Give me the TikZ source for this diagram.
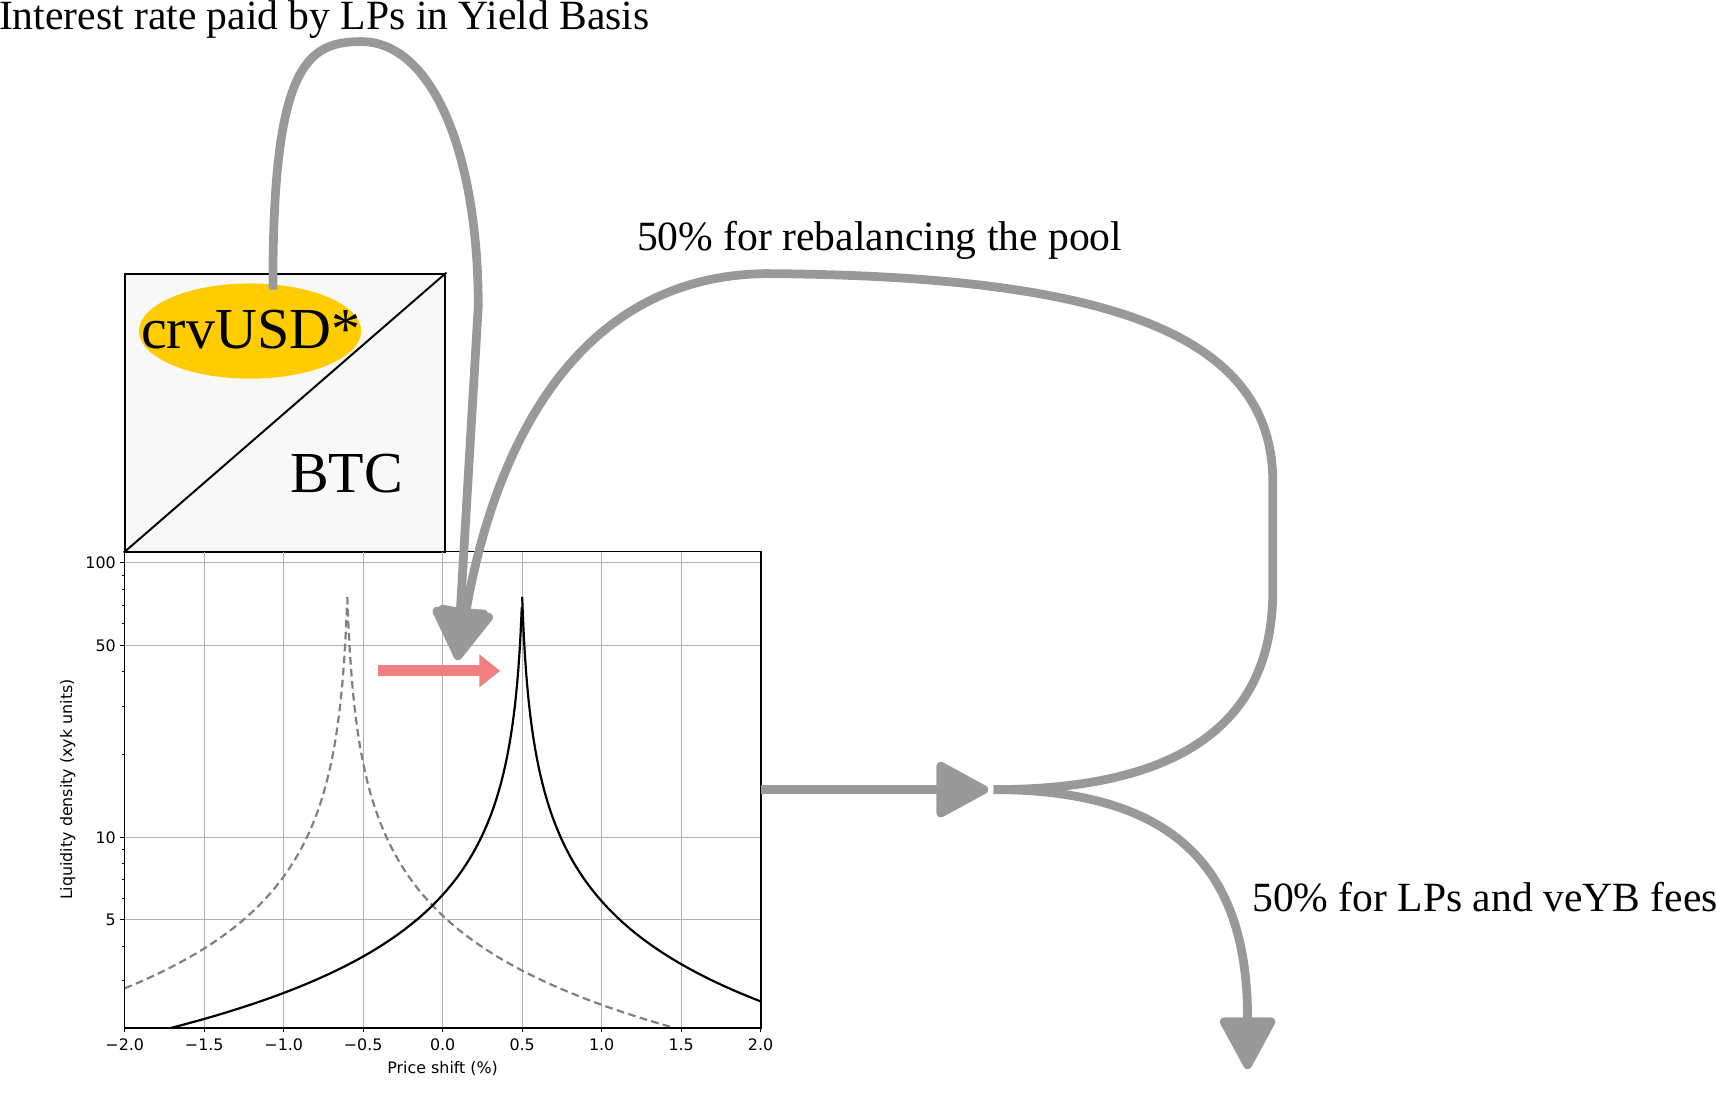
\documentclass[tikz,border=0pt]{standalone}
\usepackage{fontspec}
\setmainfont{Liberation Serif}
\newfontfamily\plotfont{DejaVu Sans}
\usetikzlibrary{arrows.meta, shapes.geometric}
\definecolor{flowgray}{HTML}{999999}
\definecolor{crvgold}{HTML}{FFCC00}
\definecolor{poolfill}{HTML}{F8F8F8}
\definecolor{shiftred}{HTML}{F08080}
\definecolor{gridgray}{HTML}{B0B0B0}
\tikzstyle{flow}=[draw=flowgray, line width=8pt, -{Triangle[length=52pt,width=54pt,round]}]
\tikzstyle{flowtext}=[font=\fontsize{38}{40}\selectfont, anchor=base west, inner sep=0pt]
\tikzstyle{asset}=[font=\fontsize{53}{56}\selectfont, inner sep=0pt]
\tikzstyle{ticklab}=[font=\plotfont\fontsize{14.5}{16}\selectfont, inner sep=0pt]
\tikzstyle{gridline}=[draw=gridgray, line width=1pt]
\tikzstyle{curve}=[line width=2pt, line join=round]
\newcommand{\px}[1]{114+(#1+2)*145.25}
\newcommand{\py}[1]{514+(2-log10(#1))*251}

\begin{document}
\begin{tikzpicture}[x=1pt, y=-1pt]
\useasboundingbox (0,0) rectangle (1568,1002.4);
\node[flowtext] (interest) at (-1,27){Interest rate paid by LPs in Yield Basis};
\node[flowtext] (rebal) at (582,229){50\% for rebalancing the pool};
\node[flowtext] (fees) at (1144,833){50\% for LPs and veYB fees};
\node[draw, line width=1.8pt, fill=poolfill, minimum width=293pt, minimum height=254pt, inner sep=0pt] (pool) at (260.5,377){};
\draw[line width=1.8pt] (pool.south west)--(pool.north east);
\node[ellipse, fill=crvgold, minimum width=203pt, minimum height=87pt, inner sep=0pt] (crv) at (228.5,302.5){};
\node[asset] (usd) at (229,301){crvUSD*};
\node[asset, anchor=base west] (btc) at (265,450){BTC};
\node[minimum width=581pt, minimum height=435pt, inner sep=0pt] (plot) at (404.5,721.5){};
\foreach \gx/\lab in {-2/{−2.0},-1.5/{−1.5},-1/{−1.0},-0.5/{−0.5},0/{0.0},0.5/{0.5},1/{1.0},1.5/{1.5},2/{2.0}}{
  \draw[gridline] ({\px{\gx}},504)--({\px{\gx}},939);
  \draw[line width=1pt] ({\px{\gx}},939)--({\px{\gx}},943);
  \node[ticklab] at ({\px{\gx}},955){\lab};
}
\foreach \v in {5,10,50,100}{
  \draw[gridline] (114,{\py{\v}})--(695,{\py{\v}});
  \draw[line width=1pt] (114,{\py{\v}})--(110,{\py{\v}});
  \node[ticklab, anchor=east] at (106,{\py{\v}}){\v};
}
\foreach \v in {3,4,6,7,8,9,20,30,40,60,70,80,90}
  \draw[line width=0.8pt] (114,{\py{\v}})--(111.5,{\py{\v}});
\begin{scope}
\clip (plot.south west) rectangle (plot.north east);
\draw[curve, gray, dash pattern=on 7pt off 4pt] plot[domain=-2:-0.6, samples=250] ({\px{\x}},{545.4+193.2*log10(1+50*(-0.6-\x))});
\draw[curve, gray, dash pattern=on 7pt off 4pt] plot[domain=-0.6:2, samples=350] ({\px{\x}},{545.4+195.3*log10(1+50*(\x+0.6))});
\draw[curve] plot[domain=-2:0.5, samples=350] ({\px{\x}},{545.4+192.4*log10(1+50*(0.5-\x))});
\draw[curve] plot[domain=0.5:2, samples=250] ({\px{\x}},{545.4+196.5*log10(1+50*(\x-0.5))});
\end{scope}
\draw[line width=1.3pt] (plot.south west) rectangle (plot.north east);
\node[ticklab] (xlab) at (404.5,976){Price shift (\%)};
\node[ticklab, rotate=90] (ylab) at (62,721.5){Liquidity density (xyk units)};
\coordinate (shift-from) at (345,613);
\coordinate (shift-to) at (457,613);
\draw[draw=shiftred, line width=10pt, -{Triangle[length=19pt,width=29pt]}] (shift-from)--(shift-to);
\coordinate (hit) at (418,603);
\coordinate (join) at (903,721.5);
\coordinate (split) at (908,721.5);
\coordinate (out) at (1140,977);
\draw[flow] ([yshift=-5pt]crv.64) .. controls (249,60) and (280,38) .. (330,38) .. controls (395,38) and (437,140) .. (437,280)--(hit);
\draw[flow] (split) .. controls (1080,721.5) and (1163,660) .. (1163,540)--(1163,440) .. controls (1163,300) and (1000,252) .. (700,250) .. controls (520,252) and (450,420) .. (hit);
\draw[flow] (plot.east)--(join);
\draw[flow] (split) .. controls (1090,721.5) and (1140,810) .. (out);
\end{tikzpicture}
\end{document}
